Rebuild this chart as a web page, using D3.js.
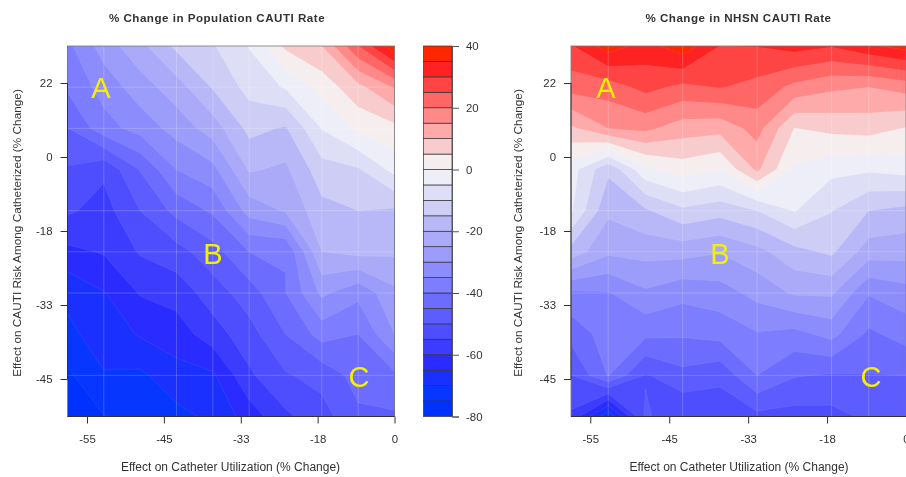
<!DOCTYPE html>
<html><head><meta charset="utf-8">
<script src="https://cdn.jsdelivr.net/npm/d3@7"></script>
<style>
html,body{margin:0;padding:0;background:#fff;overflow:hidden}
svg{display:block;filter:blur(0.45px)}
text{font-family:"Liberation Sans",Arial,sans-serif;fill:#333}
</style></head><body>
<svg id="c" width="906" height="477"></svg>
<script>
// value grids: each inner array is one column (left to right), rows top to bottom
const populationGrid = [
 [-36.3,-39.2,-45.2,-50.5,-54.2,-61.2,-69,-71,-76,-79],
 [-27.7,-33,-37,-54,-57,-59.6,-65.3,-68,-70.3,-75.2],
 [-21.5,-27.3,-33,-44.7,-50,-54.5,-59.6,-64.5,-71,-73],
 [-13.8,-22.3,-28,-35,-43.5,-52,-58,-62.5,-66.8,-71.5],
 [-10.4,-14.5,-22.6,-31.5,-39.2,-47,-52.5,-57.3,-65.8,-68.9],
 [-4.7,-8.3,-13.5,-19.4,-28,-40,-47.4,-52,-55.9,-62.8],
 [6,-4.5,-15.5,-21,-24.5,-39.9,-40.1,-45,-50.5,-56],
 [10,1.9,-4.7,-12,-16.6,-20,-28.9,-38,-48.3,-52],
 [25,8.5,1.2,-10.5,-15,-18.5,-33.7,-40,-43,-46],
 [39,15.5,3.5,-3.3,-15.7,-19.2,-26.2,-30,-41,-45.7]
];
const nhsnGrid = [
 [29.5,22,9,-2.7,-4.3,-17,-36,-43.3,-50,-56],
 [37.5,22.5,15.1,-14,-19,-24,-35.4,-37.6,-39.7,-74],
 [33,26.6,16.2,-1.2,-15.7,-23.3,-30.8,-38.9,-50.5,-49],
 [38,23.8,12.5,2.4,-11,-23.2,-33.5,-39.4,-46.5,-55],
 [30,25.3,11.8,0,-13,-24.7,-32.2,-38.3,-48.6,-53.5],
 [30.2,23.4,17,11,-10,-21.6,-28.4,-35.4,-40,-51.5],
 [32,18.6,4.9,-0.7,-4.7,-16.6,-24.3,-36.7,-44.6,-52],
 [30.4,16,6.4,-3.6,-9.8,-14,-24.2,-33.4,-45.5,-51.7],
 [34,15,7,-4.2,-15,-22.6,-34.6,-41,-45.2,-49],
 [37,17,4.7,-3,-16.5,-23,-32,-38,-45,-49.5]
];
const levels = d3.range(-80,40,5);
const bandColors = ["#0032ff","#0636ff","#1a30ff","#2a2cff","#3c3cff","#4e4eff","#5c5cff","#6c6cff",
 "#7d7dff","#8c8cfc","#9c9cfa","#aaaaf8","#b8b8f8","#cdcdf6","#dedef6","#eeeef8",
 "#f6eeee","#f8cccc","#ffaaaa","#ff8888","#ff6666","#ff4444","#ff2222","#ff2600"];
const xTicks = [-55,-45,-33,-18,0];
const yTicks = [22,0,-18,-33,-45];
const legendTicks = [40,20,0,-20,-40,-60,-80];
const panels = [
 {title:"% Change in Population CAUTI Rate",grid:populationGrid,x0:67.5,x1:394.5,tx0:87,tx1:394.5,yl:17,xl:230.5,
  gridX:[1,3,4,5,7,8],gridY:[1,2,4,5,6,8],letters:[["A",101,98],["B",213,264],["C",359,387]],titleX:217},
 {title:"% Change in NHSN CAUTI Rate",grid:nhsnGrid,x0:571,x1:906,tx0:590.3,tx1:906,yl:518,xl:739,
  gridX:[1,3,5,7,8],gridY:[4,5,6,8],letters:[["A",606,98],["B",720,264],["C",871,387]],titleX:738.5}
];
const yTop=46,yBot=416.5;
const svg=d3.select("#c");
const n=10;
const tickFont=11.4, labelFont=12, yLabelFont=11.8, axisColor="#333";
panels.forEach((p,pi)=>{
  const g=svg.append("g");
  const sx=d3.scaleLinear().domain([0.5,n-0.5]).range([p.x0,p.x1]).clamp(true);
  const sy=d3.scaleLinear().domain([0.5,n-0.5]).range([yTop,yBot]).clamp(true);
  const flat=[];
  for(let r=0;r<n;r++)for(let c=0;c<n;c++)flat.push(p.grid[c][r]);
  const path=d3.geoPath(d3.geoTransform({point(x,y){this.stream.point(sx(x),sy(y));}}));
  const contours=d3.contours().size([n,n]).smooth(true).thresholds(levels)(flat);
  const clipId="clip"+pi;
  svg.append("clipPath").attr("id",clipId).append("rect")
    .attr("x",p.x0).attr("y",yTop).attr("width",p.x1-p.x0).attr("height",yBot-yTop);
  const plot=g.append("g").attr("clip-path",`url(#${clipId})`);
  plot.append("rect").attr("x",p.x0).attr("y",yTop).attr("width",p.x1-p.x0).attr("height",yBot-yTop).attr("fill",bandColors[0]);
  plot.selectAll("path").data(contours).join("path")
    .attr("d",path).attr("fill",d=>bandColors[levels.indexOf(d.value)])
    .attr("stroke","rgba(255,255,255,0.16)").attr("stroke-width",0.5);
  // grid
  const gridIdx=d3.scaleLinear().domain([0,n-1]);
  plot.selectAll("line.gx").data(p.gridX).join("line").attr("class","gx")
    .attr("x1",d=>gridIdx.range([p.x0,p.x1])(d)).attr("x2",d=>gridIdx.range([p.x0,p.x1])(d))
    .attr("y1",yTop).attr("y2",yBot).attr("stroke","rgba(255,255,255,0.2)").attr("stroke-width",1);
  plot.selectAll("line.gy").data(p.gridY).join("line").attr("class","gy")
    .attr("y1",d=>gridIdx.range([yTop,yBot])(d)).attr("y2",d=>gridIdx.range([yTop,yBot])(d))
    .attr("x1",p.x0).attr("x2",p.x1).attr("stroke","rgba(255,255,255,0.2)").attr("stroke-width",1);
  g.append("rect").attr("x",p.x0).attr("y",yTop).attr("width",p.x1-p.x0).attr("height",yBot-yTop)
    .attr("fill","none").attr("stroke","#777").attr("stroke-width",0.8);
  // axes
  const ax=d3.scalePoint().domain(xTicks).range([p.tx0,p.tx1]);
  const ay=d3.scalePoint().domain(yTicks).range([83,379]);
  const xa=g.append("g").attr("transform",`translate(0,${yBot})`).call(d3.axisBottom(ax).tickSize(7).tickPadding(11));
  const ya=g.append("g").attr("transform",`translate(${p.x0},0)`).call(d3.axisLeft(ay).tickSize(7).tickPadding(8).tickFormat(d=>String(d)));
  xa.selectAll(".tick text").text(d=>String(d));
  xa.select(".domain").attr("d",`M${p.x0},0H${p.x1}`).attr("stroke",axisColor);
  ya.select(".domain").attr("d",`M0,83V379`).attr("stroke",axisColor);
  g.selectAll(".tick line").attr("stroke",axisColor);
  g.selectAll(".tick text").style("font-size",tickFont+"px").style("font-family","'Liberation Sans',Arial,sans-serif").attr("fill","#333");
  // labels
  g.append("text").attr("x",p.titleX).attr("y",22).attr("text-anchor","middle")
    .style("font-weight","bold").style("font-size","11.6px").style("letter-spacing","0.5px").text(p.title);
  g.append("text").attr("x",p.xl).attr("y",471).attr("text-anchor","middle")
    .style("font-size",labelFont+"px").text("Effect on Catheter Utilization (% Change)");
  g.append("text").attr("transform",`translate(${p.yl+4},233) rotate(-90)`).attr("text-anchor","middle")
    .style("font-size",yLabelFont+"px").text("Effect on CAUTI Risk Among Catheterized (% Change)");
  g.selectAll("text.letter").data(p.letters).join("text").attr("class","letter")
    .attr("x",d=>d[1]).attr("y",d=>d[2]).attr("text-anchor","middle")
    .style("font-size","29px").style("fill","#f5f000").text(d=>d[0]);
});
// legend
const lg=svg.append("g");
const lx0=423.5,lx1=452;
const ls=d3.scaleLinear().domain([-80,40]).range([yBot,yTop]);
lg.selectAll("rect").data(levels).join("rect")
  .attr("x",lx0).attr("width",lx1-lx0).attr("y",d=>ls(d+5)).attr("height",d=>ls(d)-ls(d+5))
  .attr("fill",(d,i)=>bandColors[i]).attr("stroke","#333").attr("stroke-width",0.7);
const la=lg.append("g").attr("transform",`translate(${lx1},0)`)
  .call(d3.axisRight(ls).tickValues(legendTicks).tickSize(7).tickPadding(7).tickFormat(d=>String(d)));
la.select(".domain").attr("stroke","#555");
la.selectAll(".tick line").attr("stroke","#555");
la.selectAll(".tick text").style("font-size",tickFont+"px").style("font-family","'Liberation Sans',Arial,sans-serif").attr("fill","#333");
</script></body></html>
